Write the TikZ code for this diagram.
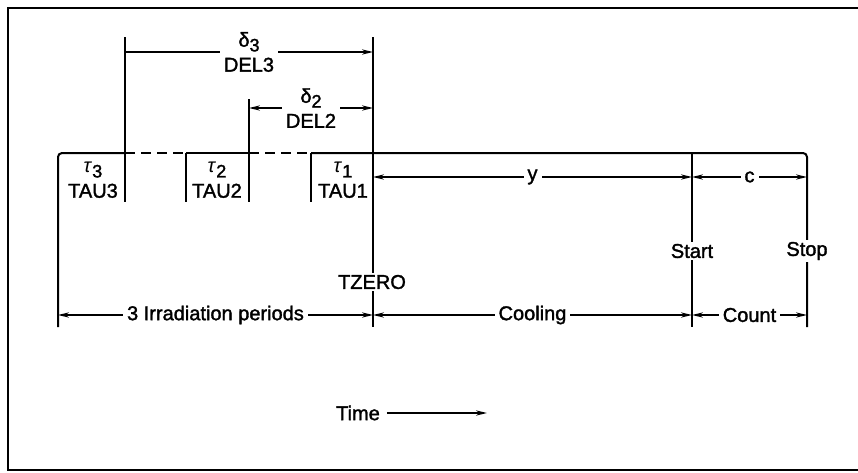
\documentclass[tikz,border=0pt]{standalone}
\usepackage{fontspec}
\setmainfont{Liberation Sans}[BoldFont={Liberation Sans}, BoldFeatures={FakeBold=1.6}]
\usetikzlibrary{arrows.meta}
\newcommand\lowidx[1]{\raisebox{-0.45ex}{\small #1}}
\tikzset{
  tickline/.style={line width=1pt},
  dimline/.style={line width=0.8pt, <->},
  lbl/.style={fill=white, inner sep=2pt, align=center},
  txtlbl/.style={align=center, inner sep=1pt}
}
\begin{document}
\begin{tikzpicture}[x=0.5pt, y=-0.5pt, >={Stealth[length=5.5pt,width=2.6pt]},
  font=\fontsize{10}{12.5}\selectfont\bfseries]
\useasboundingbox (0,0) rectangle (858,472);
\draw[line width=1.1pt] (858,8) -- (8,8) -- (8,470) -- (858,470);
% time marks on the base line
\coordinate (b3) at (58,153); \coordinate (e3) at (125,153);
\coordinate (b2) at (186,153); \coordinate (e2) at (249,153);
\coordinate (b1) at (311,153); \coordinate (tz) at (373,153);
\coordinate (st) at (692,153); \coordinate (sp) at (807,153);
% heights
\coordinate (hi) at (0,37); \coordinate (mid) at (0,99);
\coordinate (low) at (0,202); \coordinate (bot) at (0,327);
\coordinate (r3) at (0,52); \coordinate (r2) at (0,108);
\coordinate (ry) at (0,177); \coordinate (rp) at (0,315);
% base line
\draw[tickline, rounded corners=2pt] (b3 |- bot) -- (b3) -- (e3);
\draw[tickline, dashed, dash pattern=on 5pt off 3pt] (e3) -- (b2);
\draw[tickline] (b2) -- (e2);
\draw[tickline, dashed, dash pattern=on 5pt off 3pt] (e2) -- (b1);
\draw[tickline, rounded corners=2pt] (b1) -- (sp) -- (sp |- bot);
% ticks
\draw[tickline] (e3 |- hi) -- (e3 |- low);
\draw[tickline] (b2) -- (b2 |- low);
\draw[tickline] (e2 |- mid) -- (e2 |- low);
\draw[tickline] (b1) -- (b1 |- low);
\draw[tickline] (tz |- hi) -- (tz |- bot);
\draw[tickline] (st) -- (st |- bot);
\node[txtlbl, fill=white] (tzero) at (372,282) {TZERO};
\node[txtlbl, fill=white] (start) at (692,251) {Start};
\node[txtlbl, fill=white] (stop) at (807,251) {Stop};
% periods
\node[txtlbl] (tau3) at (93,180) {\textit{τ}\lowidx{3}\\TAU3};
\node[txtlbl] (tau2) at (217,180) {\textit{τ}\lowidx{2}\\TAU2};
\node[txtlbl] (tau1) at (343,180) {\textit{τ}\lowidx{1}\\TAU1};
% delays
\draw[dimline, <-] (tz |- r3) -- node[lbl] (del3) {δ\lowidx{3}\\DEL3} (e3 |- r3);
\draw[dimline] (e2 |- r2) -- node[lbl] (del2) {δ\lowidx{2}\\DEL2} (tz |- r2);
\draw[dimline] (tz |- ry) -- node[lbl] (yy) {y} (st |- ry);
\draw[dimline] (st |- ry) -- node[lbl] (cc) {c} (sp |- ry);
% phases
\draw[dimline] (b3 |- rp) -- node[lbl] (irr) {3 Irradiation periods} (tz |- rp);
\draw[dimline] (tz |- rp) -- node[lbl] (cool) {Cooling} (st |- rp);
\draw[dimline] (st |- rp) -- node[lbl] (count) {Count} (sp |- rp);
% time axis
\node (time) at (358,413) {Time};
\coordinate (tend) at (487,413);
\draw[line width=0.8pt, ->] (time) -- (tend);
\end{tikzpicture}
\end{document}
